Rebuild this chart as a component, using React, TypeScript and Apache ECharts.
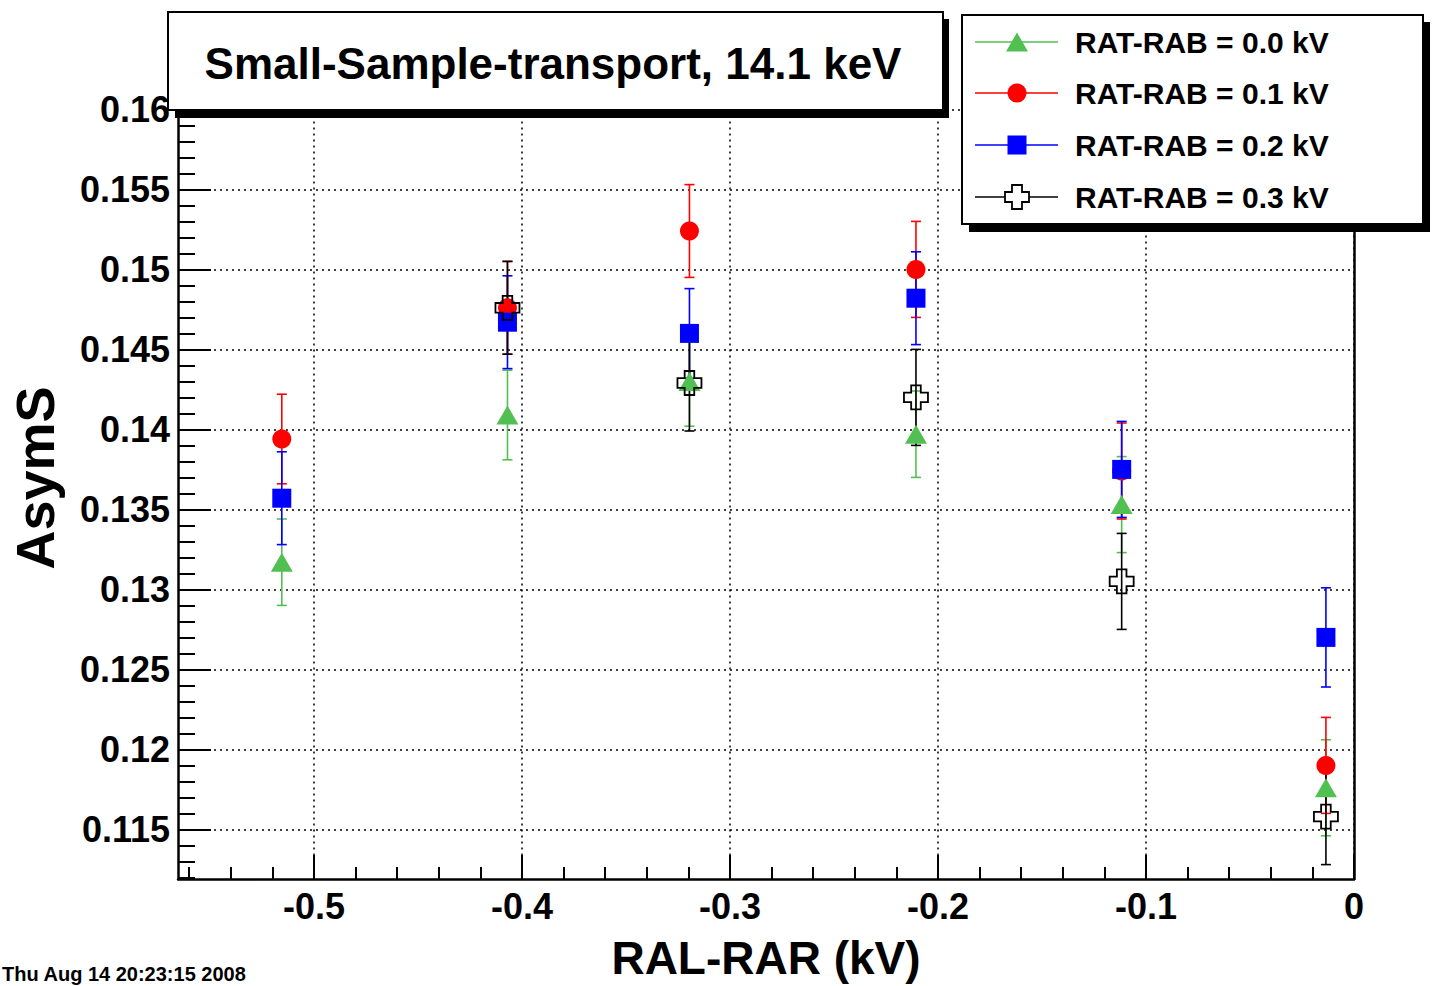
import React, { useEffect, useRef } from "react";
import * as echarts from "echarts";

// RAL-RAR settings (kV) at which the asymmetry was measured
const xPositions = [-0.5155, -0.407, -0.3195, -0.2106, -0.1117, -0.0135];

// AsymS and its uncertainty, one pair of arrays per RAT-RAB setting
const asym00 = [0.1317, 0.1409, 0.143, 0.1397, 0.1353, 0.1176];
const err00 = [0.0027, 0.0028, 0.0028, 0.0027, 0.003, 0.003];
const asym01 = [0.1394, 0.1476, 0.1524, 0.15, 0.1374, 0.119];
const err01 = [0.0028, 0.0029, 0.0029, 0.003, 0.003, 0.003];
const asym02 = [0.1357, 0.1467, 0.146, 0.1482, 0.1375, 0.127];
const err02 = [0.0029, 0.0029, 0.0028, 0.0029, 0.003, 0.0031];
// the 0.3 kV run has no point at the first RAL-RAR setting
const asym03 = [null, 0.1476, 0.1429, 0.142, 0.1305, 0.1158];
const err03 = [null, 0.0029, 0.003, 0.003, 0.003, 0.003];

const seriesNames = [
  "RAT-RAB = 0.0 kV",
  "RAT-RAB = 0.1 kV",
  "RAT-RAB = 0.2 kV",
  "RAT-RAB = 0.3 kV",
];

const xMajorTicks = [-0.5, -0.4, -0.3, -0.2, -0.1, 0];
const yMajorTicks = [0.115, 0.12, 0.125, 0.13, 0.135, 0.14, 0.145, 0.15, 0.155, 0.16];

const X_MIN = -0.5654;
const X_MAX = 0;
const Y_MIN = 0.1119;
const Y_MAX = 0.1615;

// minor tick positions: every 0.02 kV on x, every 0.001 on y
const xMinorTicks: number[] = [];
for (let k = -28; k <= 0; k++) xMinorTicks.push(Math.round(k * 20) / 1000);
const yMinorTicks: number[] = [];
for (let k = 112; k <= 161; k++) yMinorTicks.push(k / 1000);

const FONT = "'Liberation Sans', Arial, Helvetica, sans-serif";
const GREEN = "#52bf52";
const RED = "#ff0000";
const BLUE = "#0000ff";
const BLACK = "#000000";

const CROSS_PATH =
  "path://M-1,-2.5L1,-2.5L1,-1L2.5,-1L2.5,1L1,1L1,2.5L-1,2.5L-1,1L-2.5,1L-2.5,-1L-1,-1Z";

const fmt = (v: number) => String(parseFloat(v.toFixed(4)));

function points(ys: (number | null)[], es: (number | null)[]) {
  const out: number[][] = [];
  xPositions.forEach((x, i) => {
    const y = ys[i];
    const e = es[i];
    if (y != null && e != null) out.push([x, y, e]);
  });
  return out;
}

function errorBars(name: string, color: string, data: number[][]) {
  return {
    type: "custom",
    name,
    xAxisIndex: 0,
    yAxisIndex: 0,
    data,
    encode: { x: 0, y: 1 },
    silent: true,
    renderItem: (_params: any, api: any) => {
      const x = api.value(0);
      const y = api.value(1);
      const e = api.value(2);
      const top = api.coord([x, y + e]);
      const bot = api.coord([x, y - e]);
      const cap = 5;
      const style = { stroke: color, lineWidth: 1.6, fill: null };
      return {
        type: "group",
        children: [
          { type: "line", shape: { x1: top[0], y1: top[1], x2: bot[0], y2: bot[1] }, style },
          { type: "line", shape: { x1: top[0] - cap, y1: top[1], x2: top[0] + cap, y2: top[1] }, style },
          { type: "line", shape: { x1: bot[0] - cap, y1: bot[1], x2: bot[0] + cap, y2: bot[1] }, style },
        ],
      };
    },
  };
}

function markers(name: string, data: number[][], symbol: string, size: any, itemStyle: any) {
  return {
    type: "scatter",
    name,
    xAxisIndex: 0,
    yAxisIndex: 0,
    data: data.map((d) => [d[0], d[1]]),
    symbol,
    symbolSize: size,
    itemStyle: { opacity: 1, ...itemStyle },
    silent: true,
  };
}

const legendRows = [42, 93, 145, 197];

function legendGraphics() {
  const lx1 = 975;
  const lx2 = 1058;
  const mx = 1017;
  const colors = [GREEN, RED, BLUE, BLACK];
  const els: any[] = [
    // drop shadow and frame of the legend box
    { type: "rect", shape: { x: 969, y: 22, width: 461, height: 210 }, style: { fill: "#000" } },
    {
      type: "rect",
      shape: { x: 962, y: 15, width: 461, height: 209 },
      style: { fill: "#fff", stroke: "#000", lineWidth: 2 },
    },
  ];
  legendRows.forEach((ry, i) => {
    els.push({
      type: "line",
      shape: { x1: lx1, y1: ry, x2: lx2, y2: ry },
      style: { stroke: colors[i], lineWidth: 1.6 },
    });
    els.push({
      type: "text",
      x: 1075,
      y: ry,
      style: {
        text: seriesNames[i],
        font: `bold 30px ${FONT}`,
        fill: "#000",
        align: "left",
        verticalAlign: "middle",
      },
    });
  });
  els.push({
    type: "polygon",
    shape: { points: [[mx - 11, 51.5], [mx + 11, 51.5], [mx, 32.5]] },
    style: { fill: GREEN },
  });
  els.push({ type: "circle", shape: { cx: mx, cy: 93, r: 9.5 }, style: { fill: RED } });
  els.push({ type: "rect", shape: { x: mx - 9.5, y: 135.5, width: 19, height: 19 }, style: { fill: BLUE } });
  const c = 197;
  els.push({
    type: "polygon",
    shape: {
      points: [
        [mx - 5, c - 12], [mx + 5, c - 12], [mx + 5, c - 5], [mx + 12, c - 5],
        [mx + 12, c + 5], [mx + 5, c + 5], [mx + 5, c + 12], [mx - 5, c + 12],
        [mx - 5, c + 5], [mx - 12, c + 5], [mx - 12, c - 5], [mx - 5, c - 5],
      ],
    },
    style: { fill: "#fff", stroke: "#000", lineWidth: 1.8 },
  });
  return els;
}

export default function App() {
  const ref = useRef<HTMLDivElement>(null);

  useEffect(() => {
    if (!ref.current) return;
    const chart = echarts.init(ref.current, null, { renderer: "svg" });

    const d00 = points(asym00, err00);
    const d01 = points(asym01, err01);
    const d02 = points(asym02, err02);
    const d03 = points(asym03, err03);

    const gridBox = { left: 178, right: 87, top: 85.4, bottom: 107 };
    const axisLineStyle = { color: "#000", width: 2.5 };
    const tickStyle = { color: "#000", width: 2 };
    const gridLineStyle = { color: "#000", width: 1.5, type: [2, 4] };
    const labelStyle = { color: "#000", fontSize: 36, fontWeight: "bold", fontFamily: FONT };

    const overlays: any[] = [
      // title box with its drop shadow
      { type: "rect", shape: { x: 175, y: 19, width: 774, height: 99 }, style: { fill: "#000" } },
      {
        type: "rect",
        shape: { x: 168, y: 12, width: 775, height: 98 },
        style: { fill: "#fff", stroke: "#000", lineWidth: 2 },
      },
      {
        type: "text",
        x: 553,
        y: 63,
        style: {
          text: "Small-Sample-transport, 14.1 keV",
          font: `bold 44px ${FONT}`,
          fill: "#000",
          align: "center",
          verticalAlign: "middle",
        },
      },
      ...legendGraphics(),
      {
        type: "text",
        x: 766,
        y: 958,
        style: {
          text: "RAL-RAR (kV)",
          font: `bold 46px ${FONT}`,
          fill: "#000",
          align: "center",
          verticalAlign: "middle",
        },
      },
      {
        type: "text",
        x: 35,
        y: 478,
        rotation: Math.PI / 2,
        style: {
          text: "AsymS",
          font: `bold 54px ${FONT}`,
          fill: "#000",
          align: "center",
          verticalAlign: "middle",
        },
      },
      {
        type: "text",
        x: 2,
        y: 964,
        style: {
          text: "Thu Aug 14 20:23:15 2008",
          font: `bold 20px ${FONT}`,
          fill: "#000",
          align: "left",
          verticalAlign: "top",
        },
      },
    ];

    const option: any = {
      animation: false,
      backgroundColor: "#ffffff",
      grid: [{ ...gridBox }, { ...gridBox }],
      xAxis: [
        {
          gridIndex: 0,
          type: "value",
          min: X_MIN,
          max: X_MAX,
          axisLine: { show: true, onZero: false, lineStyle: axisLineStyle },
          axisTick: { show: true, inside: true, length: 24, customValues: xMajorTicks, lineStyle: tickStyle },
          axisLabel: { show: true, customValues: xMajorTicks, margin: 9, formatter: fmt, ...labelStyle },
          splitLine: { show: true, lineStyle: gridLineStyle },
        },
        {
          gridIndex: 1,
          type: "value",
          min: X_MIN,
          max: X_MAX,
          axisLine: { show: false, onZero: false },
          axisTick: { show: true, inside: true, length: 12, customValues: xMinorTicks, lineStyle: tickStyle },
          axisLabel: { show: false },
          splitLine: { show: false },
        },
      ],
      yAxis: [
        {
          gridIndex: 0,
          type: "value",
          min: Y_MIN,
          max: Y_MAX,
          position: "left",
          axisLine: { show: true, onZero: false, lineStyle: axisLineStyle },
          axisTick: { show: true, inside: true, length: 33, customValues: yMajorTicks, lineStyle: tickStyle },
          axisLabel: { show: true, customValues: yMajorTicks, margin: 8, formatter: fmt, ...labelStyle },
          splitLine: { show: true, lineStyle: gridLineStyle },
        },
        {
          gridIndex: 1,
          type: "value",
          min: Y_MIN,
          max: Y_MAX,
          position: "left",
          axisLine: { show: false, onZero: false },
          axisTick: { show: true, inside: true, length: 17, customValues: yMinorTicks, lineStyle: tickStyle },
          axisLabel: { show: false },
          splitLine: { show: false },
        },
        {
          gridIndex: 1,
          type: "value",
          min: Y_MIN,
          max: Y_MAX,
          position: "right",
          axisLine: { show: true, onZero: false, lineStyle: axisLineStyle },
          axisTick: { show: false },
          axisLabel: { show: false },
          splitLine: { show: false },
        },
      ],
      series: [
        errorBars("e00", GREEN, d00),
        markers(seriesNames[0], d00, "triangle", [22, 19], { color: GREEN }),
        errorBars("e01", RED, d01),
        markers(seriesNames[1], d01, "circle", 19, { color: RED }),
        errorBars("e02", BLUE, d02),
        markers(seriesNames[2], d02, "rect", 19, { color: BLUE }),
        errorBars("e03", BLACK, d03),
        markers(seriesNames[3], d03, CROSS_PATH, 24, {
          color: "rgba(255,255,255,0)",
          borderColor: BLACK,
          borderWidth: 1.8,
        }),
      ],
      graphic: overlays.map((el) => ({ ...el, z: 100 })),
    };

    chart.setOption(option);
    return () => chart.dispose();
  }, []);

  return (
    <div
      ref={ref}
      style={{ position: "fixed", left: 0, top: 0, width: "1441px", height: "986px" }}
    />
  );
}
